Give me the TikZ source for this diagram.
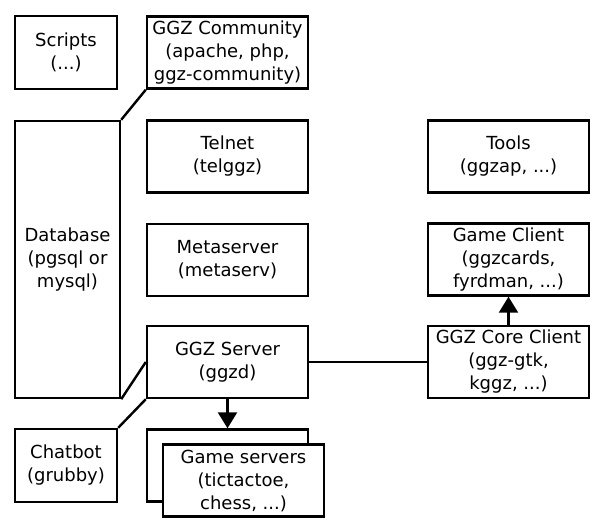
\documentclass[tikz,border=0pt]{standalone}
\usepackage{fontspec}
\setmainfont{DejaVu Sans}
\usepackage{tikz}
\usetikzlibrary{arrows.meta}
\usetikzlibrary{positioning}
\tikzset{>={Triangle[width=19pt,length=16pt]}}
\tikzset{box/.style={draw,line width=2.4pt,fill=white,align=center,inner sep=2pt,
    minimum width=161pt,minimum height=72pt,font=\fontsize{18}{23}\selectfont}}
\tikzset{smallbox/.style={box,minimum width=102pt,minimum height=73pt}}

\begin{document}
\begin{tikzpicture}[x=1pt,y=1pt,line width=2.4pt]
\useasboundingbox (0,0) rectangle (600,-528);

% Left column
\node[smallbox] (scripts) at (66,-52.5) {Scripts\\(...)};
\node[box,minimum width=105pt,minimum height=277pt] (db) at (67.5,-259.5) {Database\\(pgsql or\\mysql)};
\node[smallbox] (chatbot) at (66,-465.5) {Chatbot\\(grubby)};

% Middle column
\node[box] (community) at (227.5,-52.5) {GGZ Community\\(apache, php,\\ggz-community)};
\node[box] (telnet) at (227.5,-156.5) {Telnet\\(telggz)};
\node[box] (metaserver) at (227.5,-260) {Metaserver\\(metaserv)};
\node[box] (server) at (227.5,-362) {GGZ Server\\(ggzd)};
\node[box] (gamesback) at (227.5,-465.5) {};
\node[box] (games) at (243.5,-480.5) {Game servers\\(tictactoe,\\chess, ...)};

% Right column
\node[box] (tools) at (508.5,-156.5) {Tools\\(ggzap, ...)};
\node[box] (gameclient) at (508.5,-259.5) {Game Client\\(ggzcards,\\fyrdman, ...)};
\node[box] (core) at (508.5,-362) {GGZ Core Client\\(ggz-gtk,\\kggz, ...)};

% Connections
\draw (community.south west) -- (db.north east);
\draw (db.south east) -- (server.west);
\draw (server.south west) -- (chatbot.north east);
\draw (server.east) -- (core.west);
\draw[->] (server.south) -- (gamesback.north);
\draw[->] (core.north) -- (gameclient.south);

\end{tikzpicture}
\end{document}
